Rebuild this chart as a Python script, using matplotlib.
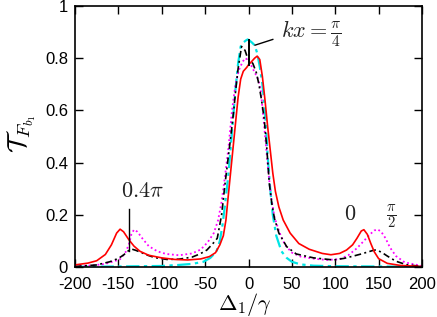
import matplotlib
matplotlib.use('Agg')
import matplotlib.pyplot as plt

plt.rcParams['font.family'] = ['Liberation Sans', 'DejaVu Sans']
plt.rcParams['mathtext.fontset'] = 'cm'

# detuning values (x) and transmission (y)
red_x = [-200, -185, -175, -165, -158, -152, -148, -144, -138, -132, -125, -115, -100, -85, -70,
         -55, -45, -38, -33, -29, -26, -24, -21, -18, -15, -12, -9, -6, -2, 0, 3, 7, 10, 13, 16,
         19, 22, 25, 28, 31, 35, 40, 48, 58, 70, 85, 95, 105, 113, 120, 125, 130, 133, 137, 141,
         145, 150, 160, 175, 200]
red_y = [0.008, 0.015, 0.024, 0.048, 0.085, 0.13, 0.145, 0.135, 0.105, 0.08, 0.06, 0.045, 0.035,
         0.029, 0.027, 0.031, 0.04, 0.055, 0.085, 0.12, 0.18, 0.25, 0.35, 0.45, 0.55, 0.65, 0.72,
         0.75, 0.765, 0.775, 0.785, 0.8, 0.808, 0.795, 0.73, 0.64, 0.54, 0.45, 0.36, 0.29, 0.23,
         0.18, 0.13, 0.09, 0.068, 0.052, 0.047, 0.052, 0.065, 0.085, 0.11, 0.138, 0.143, 0.125,
         0.09, 0.058, 0.032, 0.014, 0.006, 0.002]

mag_x = [-200, -180, -165, -155, -148, -142, -138, -135, -132, -128, -122, -115, -105, -95, -80,
         -65, -55, -47, -40, -35, -31, -27, -23, -19, -17, -15, -11, -7, -4, -1, 2, 5, 8, 11, 14,
         17, 20, 23, 26, 30, 36, 42, 50, 60, 75, 90, 105, 115, 125, 133, 140, 145, 149, 153, 158,
         163, 170, 180, 200]
mag_y = [0.003, 0.006, 0.012, 0.022, 0.03, 0.055, 0.085, 0.125, 0.143, 0.135, 0.108, 0.08, 0.06,
         0.05, 0.045, 0.052, 0.067, 0.095, 0.13, 0.18, 0.25, 0.35, 0.46, 0.6, 0.65, 0.7, 0.755,
         0.785, 0.8, 0.795, 0.78, 0.76, 0.74, 0.72, 0.68, 0.58, 0.47, 0.36, 0.27, 0.19, 0.13, 0.085,
         0.055, 0.04, 0.032, 0.027, 0.03, 0.045, 0.072, 0.1, 0.125, 0.14, 0.144, 0.135, 0.11, 0.075,
         0.042, 0.018, 0.004]

blk_x = [-200, -175, -160, -150, -144, -140, -137, -134, -130, -124, -117, -108, -94, -80, -65,
         -56, -48, -41, -36, -31, -27, -23, -19, -17, -15, -12, -8, -4, -1, 2, 5, 9, 12, 15, 18,
         21, 24, 27, 30, 35, 44, 55, 75, 98, 110, 121, 130, 138, 143, 146, 150, 155, 160, 170,
         182, 200]
blk_y = [0.002, 0.008, 0.02, 0.033, 0.046, 0.058, 0.066, 0.068, 0.064, 0.056, 0.046, 0.036, 0.029,
         0.03, 0.038, 0.05, 0.065, 0.09, 0.11, 0.2, 0.32, 0.43, 0.54, 0.6, 0.67, 0.76, 0.845, 0.83,
         0.8, 0.79, 0.78, 0.745, 0.7, 0.64, 0.57, 0.46, 0.32, 0.24, 0.185, 0.13, 0.078, 0.05,
         0.035, 0.027, 0.033, 0.042, 0.05, 0.058, 0.063, 0.065, 0.062, 0.053, 0.042, 0.022, 0.009,
         0.002]

cyan_x = [-200, -150, -100, -80, -65, -52, -44, -37, -33, -30, -27, -23, -19, -15, -12, -9, -6,
          -3, -1, 1, 4, 7, 10, 13, 16, 19, 22, 25, 28, 32, 38, 44, 50, 60, 75, 100, 150, 200]
cyan_y = [0.001, 0.002, 0.004, 0.008, 0.012, 0.02, 0.035, 0.059, 0.1, 0.16, 0.24, 0.36, 0.52,
          0.68, 0.78, 0.845, 0.86, 0.868, 0.872, 0.868, 0.86, 0.85, 0.82, 0.767, 0.7, 0.6, 0.43,
          0.3, 0.2, 0.12, 0.06, 0.035, 0.02, 0.01, 0.005, 0.003, 0.002, 0.001]

x_ticks = [-200, -150, -100, -50, 0, 50, 100, 150, 200]
y_ticks = [0, 0.2, 0.4, 0.6, 0.8, 1]

fig = plt.figure(figsize=(4.37, 3.17), dpi=100)
ax = fig.add_axes([0.1716, 0.1577, 0.7941, 0.8233])

ax.plot(cyan_x, cyan_y, color='#00e5e5', lw=1.6, dashes=(6, 2, 1.5, 2))
ax.plot(mag_x, mag_y, color='#ff00ff', lw=1.3, ls=(0, (1, 1.5)))
ax.plot(blk_x, blk_y, color='black', lw=1.2, dashes=(4, 2, 1.2, 2))
ax.plot(red_x, red_y, color='#ff0000', lw=1.2)

# label pointers
ax.plot([7.5, 28], [0.85, 0.872], color='black', lw=1.0)
ax.plot([0, 0], [0.775, 0.87], color='black', lw=1.4)
ax.plot([-137.5, -137.5], [0.06, 0.221], color='black', lw=1.0)

ax.text(38, 0.895, r'$kx=\frac{\pi}{4}$', fontsize=16, ha='left', va='center', color='#222222')
ax.text(-122, 0.29, r'$0.4\pi$', fontsize=16, ha='center', va='center', color='#222222')
ax.text(117, 0.203, r'$0$', fontsize=16, ha='center', va='center', color='#222222')
ax.text(164, 0.193, r'$\frac{\pi}{2}$', fontsize=15, ha='center', va='center', color='#222222')

ax.set_xlim(-200, 200)
ax.set_ylim(0, 1)
ax.set_xticks(x_ticks)
ax.set_xticklabels([str(v) for v in x_ticks])
ax.set_yticks(y_ticks)
ax.set_yticklabels(['0', '0.2', '0.4', '0.6', '0.8', '1'])
ax.tick_params(direction='in', length=6, width=1.0, top=True, right=True,
               labelsize=12)
ax.tick_params(axis='x', pad=7)
ax.tick_params(axis='y', pad=5)
for s in ax.spines.values():
    s.set_linewidth(1.2)

ax.set_xlabel(r'$\Delta_1/\gamma$', fontsize=16)
ax.xaxis.set_label_coords(0.49, -0.092)
ax.set_ylabel(r'$\mathcal{T}_{F_{b_1}}$', fontsize=19)
ax.yaxis.set_label_coords(-0.108, 0.51)

fig.savefig('out.png', dpi=100)
